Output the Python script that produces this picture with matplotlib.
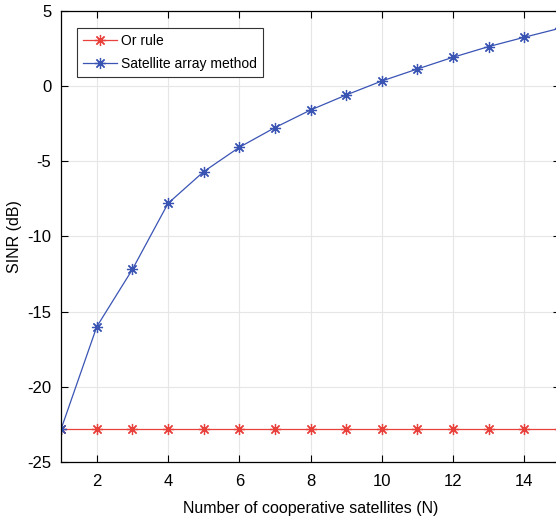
import numpy as np
import matplotlib
matplotlib.use('Agg')
import matplotlib.pyplot as plt

# data
n_sat = [1, 2, 3, 4, 5, 6, 7, 8, 9, 10, 11, 12, 13, 14, 15]
or_rule = [-22.83] * 15
sat_array = [-22.8, -16.0, -12.19, -7.8, -5.69, -4.07, -2.76, -1.59,
             -0.59, 0.34, 1.14, 1.92, 2.63, 3.25, 3.85]

plt.rcParams['font.family'] = ['Liberation Sans', 'DejaVu Sans']
plt.rcParams['font.size'] = 11
plt.rcParams['axes.unicode_minus'] = False

fig = plt.figure(figsize=(5.56, 5.22), dpi=100)
ax = fig.add_axes([0.110, 0.115, 0.897, 0.864])

star = (8, 2, 0)
ax.plot(n_sat, or_rule, color='#e8413c', lw=0.9, marker=star, ms=8,
        mew=0.9, label='Or rule')
ax.plot(n_sat, sat_array, color='#3a54b4', lw=0.9, marker=star, ms=8,
        mew=0.9, label='Satellite array method')

ax.set_xlim(1, 15)
ax.set_ylim(-25, 5)
ax.set_xticks(np.arange(2, 15, 2))
ax.set_yticks(np.arange(-25, 6, 5))
ax.grid(True, color='#e6e6e6', lw=0.8)
ax.set_axisbelow(True)
ax.tick_params(direction='in', top=True, right=True, length=5, labelsize=12)
ax.tick_params(axis='x', pad=9)
ax.tick_params(axis='y', pad=7)
for s in ax.spines.values():
    s.set_linewidth(0.9)

ax.set_xlabel('Number of cooperative satellites (N)', fontsize=11.5)
ax.set_ylabel('SINR (dB)', fontsize=11.5)
ax.xaxis.set_label_coords(0.5, -0.086)
ax.yaxis.set_label_coords(-0.078, 0.5)

leg = ax.legend(loc='upper left', bbox_to_anchor=(0.032, 0.962), fontsize=10,
                fancybox=False, edgecolor='#333333', framealpha=1,
                handlelength=2.4, handletextpad=0.3, borderpad=0.45,
                labelspacing=0.6, borderaxespad=0)
leg.get_frame().set_linewidth(0.8)

fig.savefig('out.png', dpi=100)
